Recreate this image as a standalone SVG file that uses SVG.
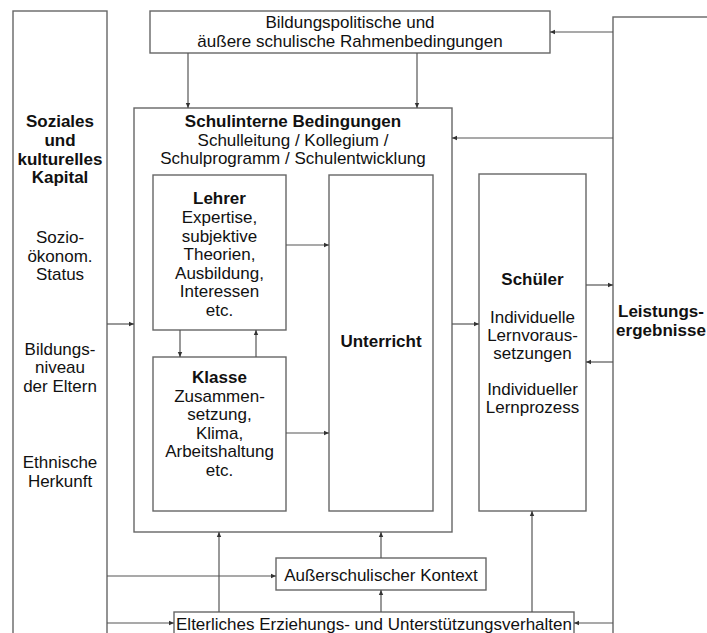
<svg xmlns="http://www.w3.org/2000/svg" width="707" height="633" viewBox="0 0 707 633">
<defs>
<marker id="ah" markerUnits="userSpaceOnUse" markerWidth="6" markerHeight="6" refX="5" refY="3" orient="auto">
<path d="M0,0.8 L5,3 L0,5.2 z" fill="#333"/>
</marker>
<style>
.box{fill:#fff;stroke:#666;stroke-width:1.4}
.t{font-family:"Liberation Sans",Arial,sans-serif;font-size:17px;fill:#111;text-anchor:middle}
.b{font-weight:bold}
.c{fill:none;stroke:#555;stroke-width:1.2;marker-end:url(#ah)}
</style>
</defs>
<rect width="707" height="633" fill="#fff"/>
<g id="kapital">
<rect class="box" x="13" y="11" width="94" height="640"/>
<text class="t b" x="60" y="127">Soziales</text>
<text class="t b" x="60" y="146">und</text>
<text class="t b" x="60" y="165">kulturelles</text>
<text class="t b" x="60" y="183">Kapital</text>
<text class="t" x="60" y="243">Sozio-</text>
<text class="t" x="60" y="262">ökonom.</text>
<text class="t" x="60" y="280">Status</text>
<text class="t" x="60" y="355">Bildungs-</text>
<text class="t" x="60" y="373">niveau</text>
<text class="t" x="60" y="392">der Eltern</text>
<text class="t" x="60" y="468">Ethnische</text>
<text class="t" x="60" y="487">Herkunft</text>
</g>
<g id="rahmen">
<rect class="box" x="150" y="11" width="400" height="42"/>
<text class="t" x="350" y="28">Bildungspolitische und</text>
<text class="t" x="350" y="47">äußere schulische Rahmenbedingungen</text>
</g>
<g id="leistung">
<rect class="box" x="613" y="17" width="110" height="640"/>
<text class="t b" x="661" y="317">Leistungs-</text>
<text class="t b" x="661" y="336">ergebnisse</text>
</g>
<g id="schulintern">
<rect class="box" x="134" y="108" width="318" height="424"/>
<text class="t b" x="293" y="127">Schulinterne Bedingungen</text>
<text class="t" x="293" y="146">Schulleitung / Kollegium /</text>
<text class="t" x="293" y="164">Schulprogramm / Schulentwicklung</text>
</g>
<g id="lehrer">
<rect class="box" x="153" y="175" width="133" height="155"/>
<text class="t b" x="219.5" y="204">Lehrer</text>
<text class="t" x="219.5" y="223">Expertise,</text>
<text class="t" x="219.5" y="242">subjektive</text>
<text class="t" x="219.5" y="260">Theorien,</text>
<text class="t" x="219.5" y="279">Ausbildung,</text>
<text class="t" x="219.5" y="297">Interessen</text>
<text class="t" x="219.5" y="316">etc.</text>
</g>
<g id="klasse">
<rect class="box" x="153" y="357" width="133" height="154"/>
<text class="t b" x="219.5" y="383">Klasse</text>
<text class="t" x="219.5" y="402">Zusammen-</text>
<text class="t" x="219.5" y="420">setzung,</text>
<text class="t" x="219.5" y="439">Klima,</text>
<text class="t" x="219.5" y="457">Arbeitshaltung</text>
<text class="t" x="219.5" y="476">etc.</text>
</g>
<g id="unterricht">
<rect class="box" x="329" y="175" width="104" height="336"/>
<text class="t b" x="381" y="347">Unterricht</text>
</g>
<g id="schueler">
<rect class="box" x="479" y="174" width="107" height="337"/>
<text class="t b" x="532.5" y="285">Schüler</text>
<text class="t" x="532.5" y="323">Individuelle</text>
<text class="t" x="532.5" y="341">Lernvoraus-</text>
<text class="t" x="532.5" y="359">setzungen</text>
<text class="t" x="532.5" y="395">Individueller</text>
<text class="t" x="532.5" y="413">Lernprozess</text>
</g>
<g id="ausserschulisch">
<rect class="box" x="276" y="558" width="210" height="32"/>
<text class="t" x="381" y="581">Außerschulischer Kontext</text>
</g>
<g id="eltern">
<rect class="box" x="174" y="612" width="400" height="40"/>
<text class="t" x="374" y="630">Elterliches Erziehungs- und Unterstützungsverhalten</text>
</g>
<g id="connectors">
<line class="c" x1="188" y1="53" x2="188" y2="108"/>
<line class="c" x1="417" y1="53" x2="417" y2="108"/>
<line class="c" x1="613" y1="32" x2="550" y2="32"/>
<line class="c" x1="613" y1="138" x2="452" y2="138"/>
<line class="c" x1="107" y1="324" x2="134" y2="324"/>
<line class="c" x1="286" y1="245" x2="329" y2="245"/>
<line class="c" x1="180" y1="330" x2="180" y2="357"/>
<line class="c" x1="256" y1="357" x2="256" y2="330"/>
<line class="c" x1="286" y1="433" x2="329" y2="433"/>
<line class="c" x1="452" y1="324" x2="479" y2="324"/>
<line class="c" x1="586" y1="285" x2="613" y2="285"/>
<line class="c" x1="613" y1="362" x2="586" y2="362"/>
<line class="c" x1="107" y1="576" x2="276" y2="576"/>
<line class="c" x1="381" y1="558" x2="381" y2="532"/>
<line class="c" x1="107" y1="623" x2="174" y2="623"/>
<line class="c" x1="219" y1="612" x2="219" y2="532"/>
<line class="c" x1="381" y1="612" x2="381" y2="590"/>
<line class="c" x1="532" y1="612" x2="532" y2="511"/>
<line class="c" x1="613" y1="623" x2="574" y2="623"/>
</g>
</svg>
